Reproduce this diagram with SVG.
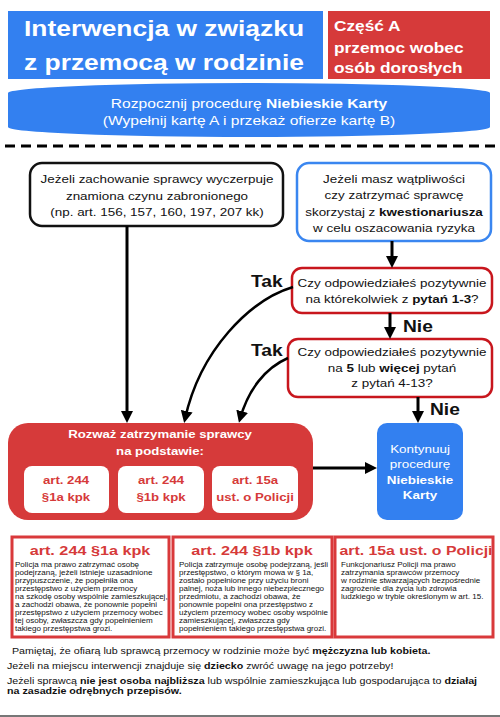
<svg xmlns="http://www.w3.org/2000/svg" width="500" height="717" viewBox="0 0 500 717">
<defs>
<style>
text{font-family:"Liberation Sans",Arial,sans-serif;}
.b{font-weight:bold;}
.wt{fill:#ffffff;}
.bk{fill:#111111;}
.rt{fill:#d63a3a;}
.mid{text-anchor:middle;}
.blue{fill:#3380f0;}
.red{fill:#d63a3a;}
.dec{fill:#ffffff;stroke:#c8161d;stroke-width:2.5;}
.art{fill:#ffffff;stroke:#d9393b;stroke-width:3;}
.con{fill:none;stroke:#000000;stroke-width:3;marker-end:url(#ah);}
.cur{fill:none;stroke:#000000;stroke-width:2.5;marker-end:url(#ah);}
</style>
<marker id="ah" viewBox="0 0 12 12" refX="8" refY="6" markerWidth="12" markerHeight="12" markerUnits="userSpaceOnUse" orient="auto"><path d="M0,0 L12,6 L0,12 z" fill="#000000"/></marker>
</defs>
<rect width="500" height="717" fill="#ffffff"/>

<g id="title">
<rect class="blue" x="8" y="11" width="315" height="68"/>
<text class="b wt mid" font-size="22" transform="translate(164 0) scale(1.2 1)"><tspan x="0" y="36">Interwencja w związku</tspan><tspan x="0" y="70">z przemocą w rodzinie</tspan></text>
</g>
<g id="part">
<rect class="red" x="328" y="11" width="162" height="68"/>
<text class="b wt" font-size="14.4" transform="translate(334 0) scale(1.2 1)"><tspan x="0" y="31">Część A</tspan><tspan x="0" y="53">przemoc wobec</tspan><tspan x="0" y="73">osób dorosłych</tspan></text>
</g>
<g id="start">
<rect class="blue" x="8" y="83" width="482" height="54" rx="241" ry="10"/>
<text class="wt mid" font-size="13" transform="translate(249 0) scale(1.2 1)"><tspan x="0" y="108">Rozpocznij procedurę <tspan class="b">Niebieskie Karty</tspan></tspan><tspan x="0" y="125">(Wypełnij kartę A i przekaż ofierze kartę B)</tspan></text>
</g>
<line x1="5" y1="146" x2="495" y2="146" stroke="#000000" stroke-width="3" stroke-dasharray="10 6"/>

<g id="crime">
<rect x="30" y="163" width="253" height="63" rx="12" fill="#ffffff" stroke="#111111" stroke-width="2.5"/>
<text class="bk mid" font-size="11.2" transform="translate(157 0) scale(1.2 1)"><tspan x="0" y="183">Jeżeli zachowanie sprawcy wyczerpuje</tspan><tspan x="0" y="200">znamiona czynu zabronionego</tspan><tspan x="0" y="216">(np. art. 156, 157, 160, 197, 207 kk)</tspan></text>
</g>
<g id="doubt">
<rect x="297" y="163" width="194" height="78" rx="12" fill="#ffffff" stroke="#3a86f0" stroke-width="2.5"/>
<text class="bk mid" font-size="11.2" transform="translate(394 0) scale(1.2 1)"><tspan x="0" y="183">Jeżeli masz wątpliwości</tspan><tspan x="0" y="199">czy zatrzymać sprawcę</tspan><tspan x="0" y="216">skorzystaj z <tspan class="b">kwestionariusza</tspan></tspan><tspan x="0" y="232">w celu oszacowania ryzyka</tspan></text>
</g>
<g id="q1">
<rect class="dec" x="292" y="268" width="200" height="45" rx="10"/>
<text class="bk mid" font-size="11.2" transform="translate(392 0) scale(1.2 1)"><tspan x="0" y="287">Czy odpowiedziałeś pozytywnie</tspan><tspan x="0" y="303">na którekolwiek z <tspan class="b">pytań 1-3</tspan>?</tspan></text>
</g>
<g id="q2">
<rect class="dec" x="288" y="339" width="204" height="58" rx="10"/>
<text class="bk mid" font-size="11.2" transform="translate(392 0) scale(1.2 1)"><tspan x="0" y="356">Czy odpowiedziałeś pozytywnie</tspan><tspan x="0" y="372">na <tspan class="b">5</tspan> lub <tspan class="b">więcej</tspan> pytań</tspan><tspan x="0" y="387">z pytań 4-13?</tspan></text>
</g>
<g id="detain">
<rect class="red" x="8" y="423" width="305" height="97" rx="20"/>
<text class="b wt mid" font-size="11" transform="translate(160 0) scale(1.2 1)"><tspan x="0" y="438">Rozważ zatrzymanie sprawcy</tspan><tspan x="0" y="455">na podstawie:</tspan></text>
<rect x="24" y="466" width="85" height="47" rx="8" fill="#ffffff"/>
<rect x="118" y="466" width="86" height="47" rx="8" fill="#ffffff"/>
<rect x="212" y="466" width="86" height="47" rx="8" fill="#ffffff"/>
<text class="b rt mid" font-size="11" transform="translate(66 0) scale(1.2 1)"><tspan x="0" y="484">art. 244</tspan><tspan x="0" y="501">§1a kpk</tspan></text>
<text class="b rt mid" font-size="11" transform="translate(161 0) scale(1.2 1)"><tspan x="0" y="484">art. 244</tspan><tspan x="0" y="501">§1b kpk</tspan></text>
<text class="b rt mid" font-size="11" transform="translate(255 0) scale(1.2 1)"><tspan x="0" y="484">art. 15a</tspan><tspan x="0" y="501">ust. o Policji</tspan></text>
</g>
<g id="continue">
<rect class="blue" x="377" y="423" width="86" height="97" rx="10"/>
<text class="wt mid" font-size="11.2" transform="translate(420 0) scale(1.2 1)"><tspan x="0" y="453">Kontynuuj</tspan><tspan x="0" y="468">procedurę</tspan><tspan class="b" x="0" y="484">Niebieskie</tspan><tspan class="b" x="0" y="499">Karty</tspan></text>
</g>

<g id="connectors">
<line class="con" x1="392" y1="241" x2="392" y2="264"/>
<line class="con" x1="390" y1="313" x2="390" y2="335"/>
<line class="con" x1="418" y1="397" x2="418" y2="419"/>
<line class="con" x1="127" y1="226" x2="127" y2="419"/>
<line class="con" x1="313" y1="468" x2="373" y2="468"/>
<path class="cur" d="M293,287 C250,300 200,350 185,419"/>
<path class="cur" d="M288,358 C265,368 248,390 240,419"/>
<text class="b bk" font-size="16" transform="translate(251 0) scale(1.2 1)"><tspan x="0" y="287">Tak</tspan><tspan x="0" y="356">Tak</tspan></text>
<text class="b bk" font-size="16" transform="translate(403 0) scale(1.2 1)"><tspan x="0" y="332">Nie</tspan></text>
<text class="b bk" font-size="16" transform="translate(430 0) scale(1.2 1)"><tspan x="0" y="415">Nie</tspan></text>
</g>

<g id="art244a">
<rect class="art" x="12" y="537" width="157" height="100"/>
<text class="b rt mid" font-size="13.5" transform="translate(90 0) scale(1.2 1)"><tspan x="0" y="555">art. 244 §1a kpk</tspan></text>
<text class="bk" font-size="6.7" transform="translate(15 0) scale(1.2 1)"><tspan x="0" y="567">Policja ma prawo zatrzymać osobę</tspan><tspan x="0" y="575">podejrzaną, jeżeli istnieje uzasadnione</tspan><tspan x="0" y="583">przypuszczenie, że popełniła ona</tspan><tspan x="0" y="591">przestępstwo z użyciem przemocy</tspan><tspan x="0" y="599">na szkodę osoby wspólnie zamieszkującej,</tspan><tspan x="0" y="607">a zachodzi obawa, że ponownie popełni</tspan><tspan x="0" y="615">przestępstwo z użyciem przemocy wobec</tspan><tspan x="0" y="623">tej osoby, zwłaszcza gdy popełnieniem</tspan><tspan x="0" y="631">takiego przestępstwa grozi.</tspan></text>
</g>
<g id="art244b">
<rect class="art" x="173" y="537" width="159" height="100"/>
<text class="b rt mid" font-size="13.5" transform="translate(252 0) scale(1.2 1)"><tspan x="0" y="555">art. 244 §1b kpk</tspan></text>
<text class="bk" font-size="6.7" transform="translate(179 0) scale(1.2 1)"><tspan x="0" y="567">Policja zatrzymuje osobę podejrzaną, jeśli</tspan><tspan x="0" y="575">przestępstwo, o którym mowa w § 1a,</tspan><tspan x="0" y="583">zostało popełnione przy użyciu broni</tspan><tspan x="0" y="591">palnej, noża lub innego niebezpiecznego</tspan><tspan x="0" y="599">przedmiotu, a zachodzi obawa, że</tspan><tspan x="0" y="607">ponownie popełni ona przestępstwo z</tspan><tspan x="0" y="615">użyciem  przemocy wobec osoby wspólnie</tspan><tspan x="0" y="623">zamieszkującej, zwłaszcza gdy</tspan><tspan x="0" y="631">popełnieniem takiego przestępstwa grozi.</tspan></text>
</g>
<g id="art15a">
<rect class="art" x="335" y="537" width="158" height="100"/>
<text class="b rt mid" font-size="13.2" transform="translate(416 0) scale(1.2 1)"><tspan x="0" y="555">art. 15a ust. o Policji</tspan></text>
<text class="bk" font-size="6.7" transform="translate(341 0) scale(1.2 1)"><tspan x="0" y="567">Funkcjonariusz Policji ma prawo</tspan><tspan x="0" y="575">zatrzymania sprawców przemocy</tspan><tspan x="0" y="583">w rodzinie stwarzających bezpośrednie</tspan><tspan x="0" y="591">zagrożenie dla życia lub zdrowia</tspan><tspan x="0" y="599">ludzkiego w trybie określonym w art. 15.</tspan></text>
</g>

<g id="footer">
<text class="bk" font-size="8.9" transform="translate(12 0) scale(1.2 1)"><tspan x="0" y="654">Pamiętaj, że ofiarą lub sprawcą przemocy w rodzinie może być <tspan class="b">mężczyzna lub kobieta.</tspan></tspan></text>
<text class="bk" font-size="8.9" transform="translate(7 0) scale(1.2 1)"><tspan x="0" y="669">Jeżeli na miejscu interwencji znajduje się <tspan class="b">dziecko</tspan> zwróć uwagę na jego potrzeby!</tspan><tspan x="0" y="684">Jeżeli sprawcą <tspan class="b">nie jest osoba najbliższa</tspan> lub wspólnie zamieszkująca lub gospodarująca to <tspan class="b">działaj</tspan></tspan><tspan class="b" x="0" y="694">na zasadzie odrębnych przepisów.</tspan></text>
</g>
<line x1="0" y1="716" x2="500" y2="716" stroke="#777777" stroke-width="2"/>
</svg>
